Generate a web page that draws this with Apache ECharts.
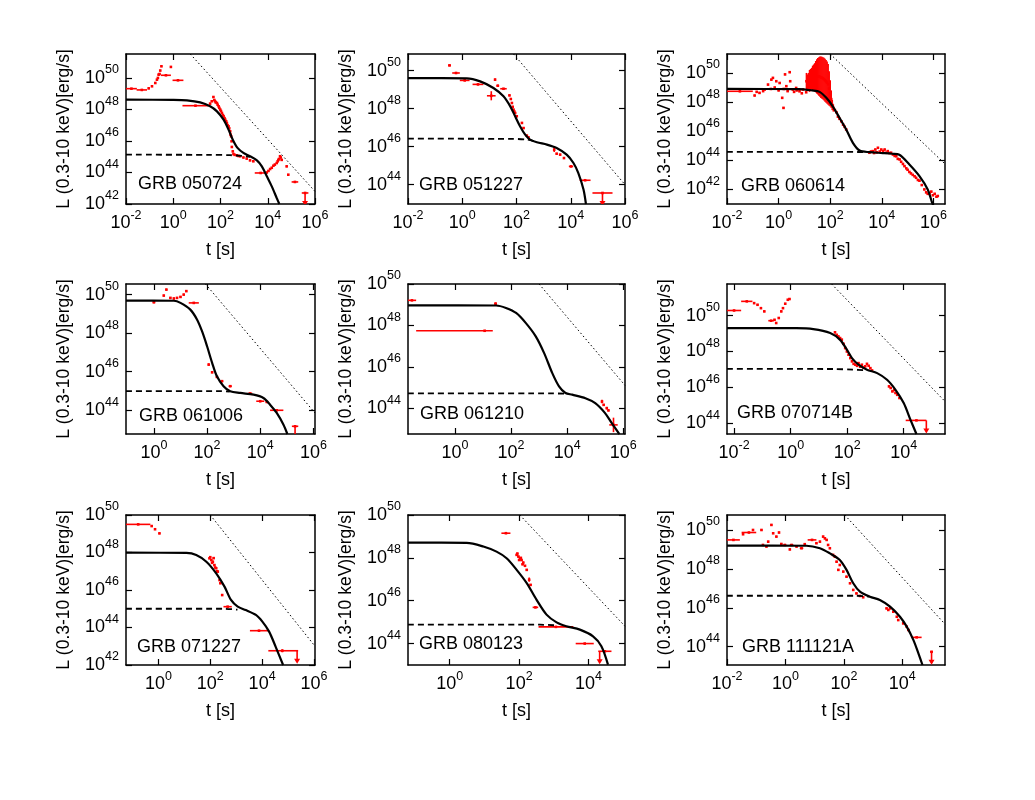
<!DOCTYPE html>
<html><head><meta charset="utf-8">
<script src="https://cdn.jsdelivr.net/npm/echarts@6/dist/echarts.min.js"></script>
<style>html,body{margin:0;padding:0;background:#fff}#c{width:1035px;height:800px}</style>
</head><body><div id="c"></div>
<script>
// ---------- DATA (log10 t [s], log10 L [erg/s]) ----------
const grbNames = ['GRB 050724','GRB 051227','GRB 060614','GRB 061006','GRB 061210','GRB 070714B','GRB 071227','GRB 080123','GRB 111121A'];
const xTickExp = [-2,0,2,4,6];
const yTickExp = [42,44,46,48,50];

// observed points: [t,L] | [t,L,tErr,LErr] | [t,L,tMinus,tPlus,LErr]
const total_050724 = [[-2,48.62],[0.0,48.61],[0.58,48.58],[1.14,48.45],[1.56,48.2],[1.85,47.88],[2.13,47.35],[2.34,46.72],[2.52,46.08],[2.72,45.56],[2.97,45.24],[3.25,45.03],[3.54,44.77],[3.75,44.39],[3.96,43.76],[4.17,43.12],[4.38,42.38],[4.49,42.0]];
const plateau_050724 = [[-2,45.13],[1.5,45.12],[2.4,45.1],[2.9,45.05],[3.25,45.0]];
const fallback_050724 = [[0.72,51.52],[6,42.8]];
const data_050724 = [[-1.77,49.32,0.23,0.03],[-1.33,49.24,0.22,0.03],[-1.04,49.34],[-0.9,49.47],[-0.76,49.68],[-0.69,49.89],[-0.65,50.0],[-0.62,50.21],[-0.58,50.25],[-0.55,50.47],[-0.5,50.74],[-0.31,50.17,0.21,0.04],[-0.1,50.7,0.02,0.06],[0.2,49.85,0.23,0.04],[0.94,48.24,0.55,0.03],[1.56,48.37],[1.63,48.52],[1.7,48.79],[1.74,48.6],[1.77,48.52],[1.8,48.45],[1.85,48.41],[1.88,48.3],[1.92,48.2],[1.95,48.1],[1.99,47.99],[2.02,47.9],[2.06,47.78],[2.1,47.65],[2.13,47.57],[2.17,47.45],[2.2,47.35],[2.24,47.25],[2.27,47.14],[2.3,47.0],[2.34,46.93],[2.37,46.8],[2.41,46.61],[2.43,46.4],[2.45,46.3],[2.47,45.98],[2.48,45.62],[2.52,45.34],[2.55,45.17],[2.6,45.12],[2.69,45.09],[2.76,45.05],[2.83,45.03],[2.97,44.95],[3.11,44.88],[3.25,44.77],[3.39,44.71],[3.7,43.97,0.25,0.04],[3.96,44.0],[4.03,44.1],[4.1,44.22],[4.17,44.3],[4.24,44.43],[4.3,44.5],[4.38,44.6],[4.42,44.71],[4.45,44.8],[4.48,44.86],[4.52,45.03],[4.55,44.95],[4.59,44.8],[4.8,44.39],[4.87,43.86],[5.15,43.4,0.14,0.04],[5.58,42.7,0.14,0.03]];
const limits_050724 = [[5.58,42.7]];

const total_051227 = [[-2,49.61],[0.17,49.6],[0.66,49.44],[1.15,49.09],[1.52,48.65],[1.77,48.12],[1.95,47.6],[2.13,47.07],[2.32,46.63],[2.5,46.37],[2.75,46.23],[3.12,46.11],[3.48,45.93],[3.85,45.58],[4.1,45.14],[4.28,44.61],[4.47,43.74],[4.56,42.98]];
const plateau_051227 = [[-2,46.42],[1.8,46.41],[2.4,46.37],[2.75,46.25]];
const fallback_051227 = [[1.89,50.88],[6,44.0]];
const data_051227 = [[-0.47,50.28,0.05,0.04],[-0.23,49.88,0.14,0.04],[0.09,49.49,0.18,0.04],[0.58,49.28,0.2,0.04],[1.07,48.68,0.16,0.24],[1.21,49.53,0.02,0.06],[1.31,49.21,0.05,0.05],[1.52,49.05,0.12,0.04],[1.74,48.7],[1.79,48.51],[1.83,48.3],[1.86,48.1],[1.89,47.95],[1.92,47.85],[1.95,47.77],[2.01,47.6],[2.2,47.25],[2.26,46.98],[2.38,46.58],[2.44,46.49],[3.39,45.84,0.03,0.12],[3.48,45.63],[3.61,45.58],[3.75,45.4],[4.01,44.96,0.08,0.05],[4.53,44.23,0.2,0.04],[5.17,43.56,0.37,0.03]];
const limits_051227 = [[5.17,43.56]];

const total_060614 = [[-2,48.9],[0.8,48.89],[1.3,48.8],[1.59,48.7],[1.85,48.29],[2.1,47.71],[2.36,46.92],[2.62,46.12],[2.88,45.2],[3.14,44.67],[3.52,44.56],[4.04,44.5],[4.4,44.45],[4.68,44.38],[5.07,43.71],[5.46,42.91],[5.78,42.0],[5.95,41.09],[6.0,40.9]];
const plateau_060614 = [[-2,44.58],[2.5,44.58],[3.1,44.57],[3.4,44.56]];
const fallback_060614 = [[2.0,51.3],[6.45,43.75]];
const data_060614 = [[-1.5,48.74,0.5,0.03],[-0.93,48.45],[-0.85,48.7],[-0.74,48.63],[-0.6,48.75],[-0.54,48.86],[-0.41,49.2],[-0.3,48.9],[-0.28,49.54],[-0.22,49.66],[-0.15,49.0],[-0.09,49.43],[0.0,48.8],[0.04,49.31],[0.14,48.29],[0.19,47.6],[0.2,48.9],[0.25,49.9],[0.3,49.09],[0.35,48.75],[0.43,50.05],[0.45,49.43],[0.55,48.86],[0.6,48.7],[0.68,48.97],[0.7,48.8],[0.81,48.74],[0.9,48.6],[0.94,48.86],[1.07,48.67],[1.14,49.2],
[1.08,49.43,0.02,0.57],[1.12,49.35,0.02,0.55],[1.16,49.4,0.02,0.6],[1.2,49.45,0.02,0.75],[1.24,49.55,0.02,0.72],[1.28,49.6,0.02,0.75],[1.32,49.65,0.02,0.85],[1.36,49.68,0.02,0.9],[1.4,49.7,0.02,0.97],[1.44,49.74,0.02,1.08],[1.48,49.76,0.02,1.18],[1.52,49.77,0.02,1.25],[1.56,49.76,0.02,1.32],[1.6,49.74,0.02,1.38],[1.64,49.7,0.02,1.42],[1.68,49.67,0.02,1.44],[1.72,49.63,0.02,1.45],[1.76,49.57,0.02,1.47],[1.8,49.5,0.02,1.48],[1.84,49.42,0.02,1.47],[1.88,49.33,0.02,1.45],[1.92,49.22,0.02,1.4],[1.96,48.93,0.02,1.18],[2.0,48.6,0.02,0.9],[2.04,48.2,0.02,0.6],[2.08,47.8,0.02,0.35],[2.12,47.6,0.02,0.25],
[2.18,47.45],[2.24,47.3],[2.3,47.0],[2.36,46.85],[2.43,46.68],[2.5,46.45],[2.56,46.3],[2.62,46.12],
[3.52,44.52],[3.58,44.6],[3.65,44.63],[3.7,44.5],[3.75,44.74],[3.8,44.55],[3.85,44.86],[3.92,44.6],[3.98,44.74],[4.05,44.63],[4.11,44.74],[4.17,44.52],[4.23,44.63],[4.3,44.5],[4.36,44.52],[4.43,44.4],[4.5,44.3],[4.56,44.28],[4.62,44.1],[4.69,44.06],[4.75,43.9],[4.82,43.75],[4.88,43.6],[4.95,43.45],[5.0,43.35],[5.07,43.2],[5.13,43.1],[5.2,43.0],[5.27,42.9],[5.33,42.8],[5.4,42.65],[5.46,42.6],[5.55,42.3],[5.65,42.0],[5.72,41.8],[5.78,41.7],[5.85,41.75],[5.92,41.85],[5.98,41.6],[6.05,41.7],[6.12,41.5],[6.17,41.55]];
const limits_060614 = [];

const total_061006 = [[-1.05,49.69],[0.75,49.68],[1.0,49.57],[1.37,49.22],[1.62,48.71],[1.81,48.1],[2.0,47.32],[2.19,46.46],[2.37,45.76],[2.62,45.25],[2.87,44.99],[3.25,44.9],[3.75,44.81],[4.12,44.64],[4.37,44.29],[4.62,43.86],[4.87,43.26],[5.02,42.77]];
const plateau_061006 = [[-1.05,44.99],[2.5,44.99],[2.85,44.97]];
const fallback_061006 = [[1.94,50.55],[6.06,43.86]];
const data_061006 = [[0.0,49.6,0.05,0.03],[0.37,49.95],[0.47,50.26],[0.62,49.83],[0.75,49.8],[0.87,49.83],[1.0,49.88],[1.12,50.0],[1.22,50.18],[1.5,49.57,0.19,0.03],[2.06,46.37,0.02,0.06],[2.19,45.97,0.03,0.05],[2.37,45.73,0.04,0.05],[2.56,45.51,0.05,0.05],[2.87,45.25,0.06,0.05],[3.62,44.87,0.08,0.04],[4.0,44.47,0.15,0.05],[4.25,44.43,0.05,0.04],[4.62,44.0,0.25,0.05],[5.31,43.17,0.12,0.03]];
const limits_061006 = [[5.31,43.17]];

const total_061210 = [[-1.67,48.97],[1.47,48.96],[1.82,48.84],[2.18,48.6],[2.53,48.11],[2.88,47.47],[3.18,46.66],[3.47,45.69],[3.71,45.05],[3.94,44.73],[4.18,44.65],[4.65,44.48],[5.0,44.24],[5.35,43.76],[5.59,43.27],[5.86,42.74]];
const plateau_061210 = [[-1.67,44.71],[3.5,44.71],[3.94,44.7]];
const fallback_061210 = [[3.0,50.0],[6.06,45.1]];
const data_061210 = [[-1.53,49.21,0.15,0.03],[1.45,49.05,0.05,0.06],[1.06,47.74,2.44,0.29,0.03],[5.24,44.32,0.03,0.08],[5.3,44.16],[5.41,44.0,0.03,0.06],[5.47,43.89],[5.65,43.19,0.15,0.35]];
const limits_061210 = [];

const total_070714B = [[-2.25,49.31],[0.2,49.3],[0.8,49.25],[1.4,49.03],[1.75,48.65],[1.99,48.1],[2.17,47.63],[2.4,47.26],[2.7,46.98],[3.06,46.79],[3.41,46.42],[3.71,45.86],[4.0,45.12],[4.24,44.18],[4.45,43.39]];
const plateau_070714B = [[-2.25,47.03],[1.5,47.02],[2.2,46.99],[2.6,46.96]];
const fallback_070714B = [[1.45,51.77],[5.46,45.21]];
const data_070714B = [[-2.0,50.29,0.25,0.03],[-1.55,50.8,0.2,0.03],[-1.29,50.7],[-1.17,50.61],[-1.05,50.42],[-0.93,50.24],[-0.69,49.72,0.1,0.03],[-0.57,49.77],[-0.51,49.59],[-0.42,49.87],[-0.33,50.24],[-0.27,50.42],[-0.19,50.67],[-0.1,50.89],[-0.04,50.93],
[1.57,49.07],[1.63,48.93],[1.69,48.84],[1.75,48.75],[1.81,48.66],[1.87,48.43],[1.93,48.19],[1.99,48.0],[2.05,47.82],[2.11,47.63],[2.17,47.45],[2.23,47.31],[2.29,47.26],[2.35,47.2],[2.4,47.35],[2.46,47.15],[2.52,47.26],[2.58,47.1],[2.64,47.17],[2.7,47.31],[2.76,47.2],[2.82,47.07],[2.88,46.94],
[3.48,46.05],[3.54,45.96],[3.6,45.77],[3.66,45.85],[3.71,45.68],[3.77,45.58],[3.85,45.4],[4.45,44.15,0.38,0.35,0.03]];
const limits_070714B = [[4.8,44.15]];

const total_071227 = [[-1.25,47.99],[1.08,47.98],[1.46,47.87],[1.85,47.51],[2.23,46.89],[2.55,46.18],[2.8,45.47],[3.06,45.11],[3.37,44.93],[3.76,44.67],[4.01,44.31],[4.27,43.78],[4.52,42.98],[4.81,42.0]];
const plateau_071227 = [[-1.25,45.0],[2.5,45.0],[3.05,44.95]];
const fallback_071227 = [[2.0,50.0],[6.04,43.0]];
const data_071227 = [[-0.78,49.5,0.47,0.03],[-0.26,49.41],[-0.13,49.24],[0.04,49.02],[1.97,47.69],[2.0,47.75],[2.04,47.6],[2.07,47.45],[2.1,47.51],[2.13,47.7],[2.16,47.33],[2.19,47.2],[2.23,47.16],[2.26,47.0],[2.29,46.98],[2.36,46.53],[2.39,46.36],[2.46,45.73],[2.67,45.11,0.16,0.04],[3.88,43.83,0.35,0.04],[4.78,42.76,0.54,0.61,0.08]];
const limits_071227 = [[5.35,42.76]];

const total_080123 = [[-1.2,48.71],[0.49,48.7],[0.97,48.53],[1.35,48.29],[1.64,47.98],[1.93,47.44],[2.22,46.82],[2.5,46.05],[2.79,45.35],[3.08,44.99],[3.36,44.81],[3.75,44.65],[4.13,44.34],[4.37,43.88],[4.56,43.02]];
const plateau_080123 = [[-1.2,44.88],[2.6,44.88],[3.05,44.85]];
const fallback_080123 = [[2.02,50.0],[5.05,44.81]];
const data_080123 = [[1.62,49.15,0.13,0.03],[1.93,48.14],[1.95,48.2],[1.98,48.06],[2.0,47.9],[2.03,47.98],[2.05,48.0],[2.07,47.9],[2.1,47.7],[2.12,47.78],[2.17,47.63],[2.22,47.44],[2.29,46.98,0.02,0.1],[2.33,46.74],[2.47,45.69,0.08,0.04],[3.06,44.78,0.5,0.03],[3.89,44.0,0.26,0.03],[4.47,43.64,0.19,0.03]];
const limits_080123 = [[4.32,43.64]];

const total_111121A = [[-2,49.2],[0.72,49.19],[1.18,49.06],[1.52,48.8],[1.86,48.46],[2.09,47.95],[2.32,47.26],[2.55,46.83],[2.89,46.57],[3.23,46.4],[3.58,46.06],[3.92,45.54],[4.15,45.03],[4.38,44.34],[4.55,43.66],[4.69,43.06]];
const plateau_111121A = [[-2,46.62],[2.4,46.62],[2.85,46.58]];
const fallback_111121A = [[2.03,50.77],[5.46,45.16]];
const data_111121A = [[-1.78,49.49,0.22,0.03],[-1.25,49.87,0.25,0.03],[-1.45,49.78],[-1.11,50.0],[-0.82,50.0],[-0.77,49.23],[-0.65,49.15],[-0.59,49.4],[-0.48,50.26],[-0.42,49.83],[-0.31,49.66],[-0.22,49.87],[-0.14,49.28],[-0.02,49.23,0.05,0.03],[0.15,49.0],[0.21,49.23,0.06,0.03],[0.38,49.15],[0.55,49.06,0.06,0.03],[0.66,49.27],[0.91,49.49,0.15,0.03],[1.06,49.32],[1.18,49.4],[1.29,49.66],[1.35,49.57],[1.41,49.49],[1.46,49.23],[1.52,49.06],[1.63,48.72],[1.69,48.63],[1.75,48.37],[1.81,47.95],[1.86,48.2],[1.98,47.86],[2.09,47.6],[2.21,47.26],[2.32,46.92],[2.43,46.74],[2.55,46.61],[2.66,46.54],
[3.46,45.97],[3.52,45.89],[3.58,45.97],[3.69,45.8],[3.81,45.54],[3.86,45.37],[4.03,45.2],[4.15,45.03],[4.21,44.86],[4.49,44.48,0.17,0.03],[5.0,43.74,0.05,0.03]];
const limits_111121A = [[5.0,43.74]];

// ---------- LAYOUT ----------
const FONT = "'Liberation Sans', Arial, Helvetica, sans-serif";
const RED = '#ff0000';
const boxes = [[126,54,189,150],[408,54,217,150],[727,54,218,150],
               [126,284,189,150],[408,284,217,150],[727,284,218,150],
               [126,515,189,150],[408,515,217,150],[727,515,218,150]];
const xExt = [[-2,6],[-2,6],[-2,6.45],[-1.05,6.06],[-1.67,6.06],[-2.25,5.46],[-1.25,6.04],[-1.2,5.05],[-2,5.46]];
const yExt = [[42,51.52],[42.98,50.88],[41,51.3],[42.77,50.55],[42.75,50],[43.39,51.77],[42,50],[43,50],[43.06,50.77]];
const labelPos = [[138,184],[419,185],[741,186],[139,416],[420,414],[737,413],[137,647],[419,644],[742,647]];

const panels = [
  [total_050724,plateau_050724,fallback_050724,data_050724,limits_050724],
  [total_051227,plateau_051227,fallback_051227,data_051227,limits_051227],
  [total_060614,plateau_060614,fallback_060614,data_060614,limits_060614],
  [total_061006,plateau_061006,fallback_061006,data_061006,limits_061006],
  [total_061210,plateau_061210,fallback_061210,data_061210,limits_061210],
  [total_070714B,plateau_070714B,fallback_070714B,data_070714B,limits_070714B],
  [total_071227,plateau_071227,fallback_071227,data_071227,limits_071227],
  [total_080123,plateau_080123,fallback_080123,data_080123,limits_080123],
  [total_111121A,plateau_111121A,fallback_111121A,data_111121A,limits_111121A]
];

function norm(d){
  if (d.length === 2) return [d[0], d[1], 0.025, 0.025, 0.035];
  if (d.length === 4) return [d[0], d[1], d[2], d[2], d[3]];
  return d;
}
function renderErr(params, api){
  const t = api.value(0), L = api.value(1), tm = api.value(2), tp = api.value(3), ye = api.value(4);
  const a = api.coord([t - tm, L]), b = api.coord([t + tp, L]);
  const lo = api.coord([t, L - ye]), hi = api.coord([t, L + ye]), c = api.coord([t, L]);
  return {type:'group', children:[
    {type:'line', shape:{x1:a[0],y1:a[1],x2:b[0],y2:b[1]}, style:{stroke:RED,lineWidth:1.6}},
    {type:'line', shape:{x1:lo[0],y1:lo[1],x2:hi[0],y2:hi[1]}, style:{stroke:RED,lineWidth:1.6}},
    {type:'rect', shape:{x:c[0]-1.3,y:c[1]-1.3,width:2.6,height:2.6}, style:{fill:RED}}
  ]};
}
function renderLimit(params, api){
  const c = api.coord([api.value(0), api.value(1)]);
  return {type:'group', children:[
    {type:'line', shape:{x1:c[0],y1:c[1],x2:c[0],y2:c[1]+11}, style:{stroke:RED,lineWidth:1.6}},
    {type:'polygon', shape:{points:[[c[0]-3,c[1]+8],[c[0]+3,c[1]+8],[c[0],c[1]+13]]}, style:{fill:RED}}
  ]};
}
const expFmt = v => '{b|10}{s|' + v + '}';
const richStyle = {
  b:{fontSize:18, fontFamily:FONT, color:'#000'},
  s:{fontSize:12.5, fontFamily:FONT, color:'#000', padding:[0,0,16,0]}
};
const inRange = (arr, ext) => arr.filter(v => v >= ext[0] - 1e-9 && v <= ext[1] + 1e-9);

const option = {animation:false, backgroundColor:'#fff', grid:[], xAxis:[], yAxis:[], series:[], graphic:[]};
panels.forEach((p, i) => {
  const [l, t, w, h] = boxes[i];
  option.grid.push({left:l, top:t, width:w, height:h});
  const xt = inRange(xTickExp, xExt[i]), yt = inRange(yTickExp, yExt[i]);
  const lineSt = {color:'#000', width:1.5};
  const tickSt = {color:'#000', width:1.2};
  ['bottom','top'].forEach(pos => {
    option.xAxis.push({
      gridIndex:i, type:'value', position:pos, min:xExt[i][0], max:xExt[i][1],
      axisLine:{show:true, onZero:false, lineStyle:lineSt},
      axisTick:{show:true, inside:true, length:6, customValues:xt, lineStyle:tickSt},
      axisLabel:{show:pos==='bottom', customValues:xt, formatter:expFmt, rich:richStyle, margin:5},
      splitLine:{show:false},
      name: pos==='bottom' ? 't [s]' : '', nameLocation:'middle', nameGap:37,
      nameTextStyle:{fontSize:18, fontFamily:FONT, color:'#000'}
    });
  });
  ['left','right'].forEach(pos => {
    option.yAxis.push({
      gridIndex:i, type:'value', position:pos, min:yExt[i][0], max:yExt[i][1],
      axisLine:{show:true, onZero:false, lineStyle:lineSt},
      axisTick:{show:true, inside:true, length:6, customValues:yt, lineStyle:tickSt},
      axisLabel:{show:pos==='left', customValues:yt, formatter:expFmt, rich:richStyle, margin:7},
      splitLine:{show:false},
      name: pos==='left' ? 'L (0.3-10 keV)[erg/s]' : '', nameLocation:'middle', nameRotate:90, nameGap:53,
      nameTextStyle:{fontSize:17.5, fontFamily:FONT, color:'#000'}
    });
  });
  const xi = 2*i, yi = 2*i;
  const [total, plateau, fallback, obs, lims] = p;
  option.series.push({type:'custom', xAxisIndex:xi, yAxisIndex:yi, renderItem:renderErr, data:obs.map(norm), clip:true, z:2, silent:true});
  option.series.push({type:'custom', xAxisIndex:xi, yAxisIndex:yi, renderItem:renderLimit, data:lims, clip:true, z:2, silent:true});
  option.series.push({type:'line', xAxisIndex:xi, yAxisIndex:yi, data:fallback, symbol:'none', lineStyle:{color:'#000', width:1, type:[1.5,2.5]}, z:3, silent:true});
  option.series.push({type:'line', xAxisIndex:xi, yAxisIndex:yi, data:plateau, symbol:'none', smooth:0.3, lineStyle:{color:'#000', width:1.8, type:[6,4]}, z:4, silent:true});
  option.series.push({type:'line', xAxisIndex:xi, yAxisIndex:yi, data:total, symbol:'none', smooth:0.3, lineStyle:{color:'#000', width:2.2}, z:5, silent:true});
  option.graphic.push({type:'text', x:labelPos[i][0], y:labelPos[i][1], z:100,
    style:{text:grbNames[i], fontSize:18, fontFamily:FONT, fill:'#000', align:'left', verticalAlign:'middle'}});
});
const chart = echarts.init(document.getElementById('c'), null, {renderer:'canvas'});
chart.setOption(option);
</script></body></html>
